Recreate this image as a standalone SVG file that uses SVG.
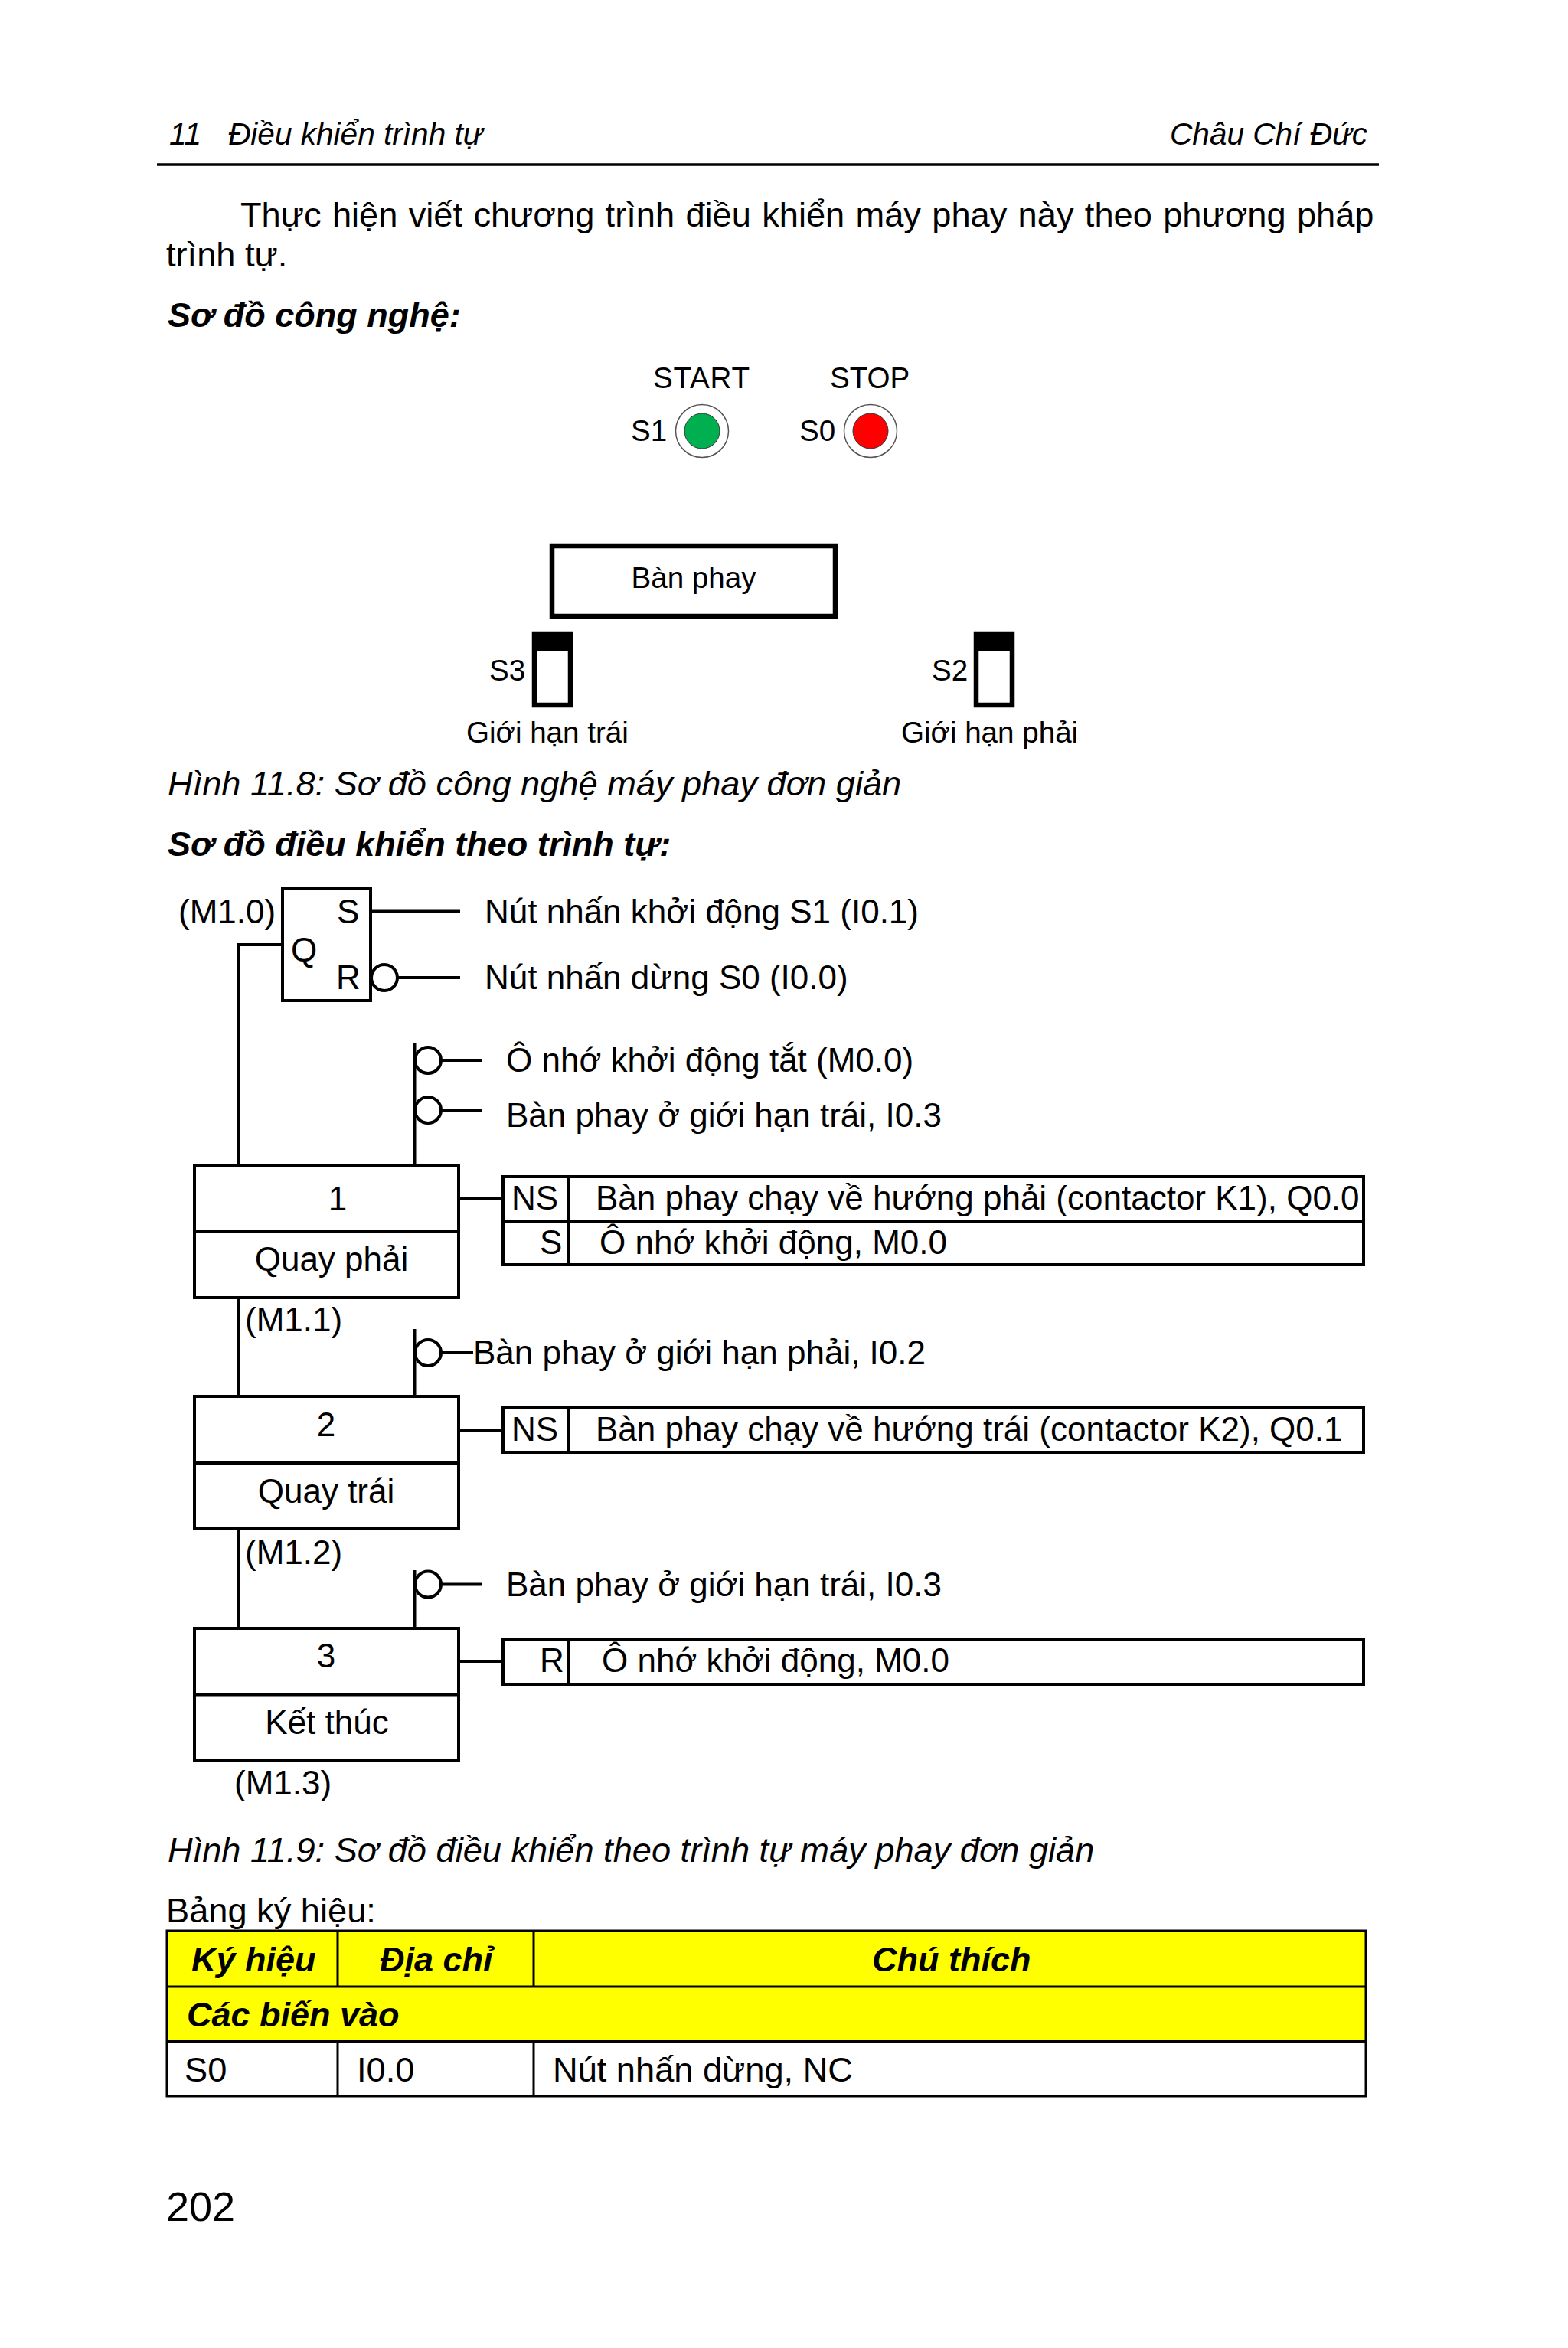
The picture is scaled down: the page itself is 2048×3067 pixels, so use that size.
<svg xmlns="http://www.w3.org/2000/svg" width="2048" height="3067" viewBox="0 0 2048 3067">
<style>
text{font-family:"Liberation Sans",Arial,sans-serif;fill:#000;white-space:pre}
.b{font-size:45.2px}.h{font-size:40.6px;font-style:italic}.bi{font-size:45px;font-style:italic;font-weight:bold}.i{font-size:45.2px;font-style:italic}
.l{font-size:38.6px}.d{font-size:44px}.m{text-anchor:middle}
.ln{fill:none;stroke:#000;stroke-width:4}.box{fill:#fff;stroke:#000;stroke-width:4}
.c{fill:#fff;stroke:#000;stroke-width:4}.t{fill:none;stroke:#000;stroke-width:3}.y{fill:#ff0;stroke:none}
</style>
<rect width="2048" height="3067" fill="#fff"/>
<g id="page-text">
<text class="h" x="221" y="189">11</text>
<text class="h" x="298" y="189">Điều khiển trình tự</text>
<text class="h" x="1528" y="189">Châu Chí Đức</text>
<line x1="205" y1="215" x2="1801" y2="215" stroke="#000" stroke-width="3.5"/>
<text class="b" x="314" y="296" style="word-spacing:1.8px">Thực hiện viết chương trình điều khiển máy phay này theo phương pháp</text>
<text class="b" x="217" y="348">trình tự.</text>
<text class="bi" x="219" y="427">Sơ đồ công nghệ:</text>
<text class="i" x="219" y="1039">Hình 11.8: Sơ đồ công nghệ máy phay đơn giản</text>
<text class="bi" x="219" y="1118">Sơ đồ điều khiển theo trình tự:</text>
<text class="i" x="219" y="2432">Hình 11.9: Sơ đồ điều khiển theo trình tự máy phay đơn giản</text>
<text class="b" x="217" y="2511">Bảng ký hiệu:</text>
<text x="217" y="2901" style="font-size:54px">202</text>
</g>
<g id="btn-start">
<text class="l" x="853" y="507" style="letter-spacing:.8px">START</text><text class="l" x="824" y="576">S1</text>
<circle cx="917" cy="563" r="34.5" fill="#fff" stroke="#555" stroke-width="1.5"/>
<circle cx="917" cy="563" r="23" fill="#00b050" stroke="#333" stroke-width="1"/>
</g>
<g id="btn-stop">
<text class="l" x="1084" y="507">STOP</text><text class="l" x="1044" y="576">S0</text>
<circle cx="1137" cy="563" r="34.5" fill="#fff" stroke="#555" stroke-width="1.5"/>
<circle cx="1137" cy="563" r="23" fill="#f00" stroke="#333" stroke-width="1"/>
</g>
<g id="ban-phay">
<rect x="721" y="713" width="370" height="92" fill="#fff" stroke="#000" stroke-width="6.5"/>
<text class="l" x="906" y="768" text-anchor="middle">Bàn phay</text>
</g>
<g id="s3">
<rect x="698" y="828" width="47" height="93" fill="#fff" stroke="#000" stroke-width="6.5"/>
<rect x="695" y="825" width="53" height="26" fill="#000"/>
<text class="l" x="639" y="889">S3</text><text class="l" x="609" y="970">Giới hạn trái</text>
</g>
<g id="s2">
<rect x="1275" y="828" width="47" height="93" fill="#fff" stroke="#000" stroke-width="6.5"/>
<rect x="1272" y="825" width="53" height="26" fill="#000"/>
<text class="l" x="1217" y="889">S2</text><text class="l" x="1177" y="970">Giới hạn phải</text>
</g>
<g id="connectors">
<path class="ln" d="M369 1234H311V1522M486 1190.5H601M519 1277H601M541.5 1362V1522M576 1385H629M576 1450H629"/>
<path class="ln" d="M311 1695V1824M541.5 1736V1824M576 1767H618M311 1997V2127M541.5 2051V2127M576 2069.5H629"/>
<path class="ln" d="M599 1565H657M599 1868H657M599 2170H657"/>
</g>
<g id="sr">
<rect class="box" x="369" y="1161" width="115" height="146"/>
<text class="d" x="440" y="1206">S</text><text class="d" x="439" y="1292">R</text><text class="d" x="380" y="1256">Q</text>
<text class="d" x="233" y="1206">(M1.0)</text>
<circle class="c" cx="502" cy="1277" r="17"/>
<text class="d" x="633" y="1206">Nút nhấn khởi động S1 (I0.1)</text>
<text class="d" x="633" y="1292">Nút nhấn dừng S0 (I0.0)</text>
</g>
<g id="trans-0">
<circle class="c" cx="559" cy="1385" r="17"/><circle class="c" cx="559" cy="1450" r="17"/>
<text class="d" x="661" y="1400">Ô nhớ khởi động tắt (M0.0)</text>
<text class="d" x="661" y="1472">Bàn phay ở giới hạn trái, I0.3</text>
</g>
<g id="step-1">
<rect class="box" x="254" y="1522" width="345" height="173"/><line class="ln" x1="254" y1="1608" x2="599" y2="1608"/>
<text class="d m" x="441" y="1581">1</text><text class="d m" x="433" y="1660">Quay phải</text>
<text class="d" x="320" y="1739">(M1.1)</text>
</g>
<g id="action-1">
<rect class="box" x="657" y="1537" width="1124" height="115"/>
<path class="ln" d="M657 1595H1781M743 1537V1652"/>
<text class="d" x="668" y="1580">NS</text><text class="d" x="778" y="1580">Bàn phay chạy về hướng phải (contactor K1), Q0.0</text>
<text class="d" x="705" y="1638">S</text><text class="d" x="783" y="1638">Ô nhớ khởi động, M0.0</text>
</g>
<g id="trans-1">
<circle class="c" cx="559" cy="1767" r="17"/>
<text class="d" x="618" y="1782">Bàn phay ở giới hạn phải, I0.2</text>
</g>
<g id="step-2">
<rect class="box" x="254" y="1824" width="345" height="173"/><line class="ln" x1="254" y1="1911" x2="599" y2="1911"/>
<text class="d m" x="426" y="1876">2</text><text class="d m" x="426" y="1963">Quay trái</text>
<text class="d" x="320" y="2043">(M1.2)</text>
</g>
<g id="action-2">
<rect class="box" x="657" y="1839" width="1124" height="58"/><line class="ln" x1="743" y1="1839" x2="743" y2="1897"/>
<text class="d" x="668" y="1882">NS</text><text class="d" x="778" y="1882">Bàn phay chạy về hướng trái (contactor K2), Q0.1</text>
</g>
<g id="trans-2">
<circle class="c" cx="559" cy="2069.5" r="17"/>
<text class="d" x="661" y="2085">Bàn phay ở giới hạn trái, I0.3</text>
</g>
<g id="step-3">
<rect class="box" x="254" y="2127" width="345" height="173"/><line class="ln" x1="254" y1="2213.5" x2="599" y2="2213.5"/>
<text class="d m" x="426" y="2178">3</text><text class="d m" x="427" y="2265">Kết thúc</text>
<text class="d" x="306" y="2344">(M1.3)</text>
</g>
<g id="action-3">
<rect class="box" x="657" y="2141" width="1124" height="59"/><line class="ln" x1="743" y1="2141" x2="743" y2="2200"/>
<text class="d" x="705" y="2184">R</text><text class="d" x="786" y="2184">Ô nhớ khởi động, M0.0</text>
</g>
<g id="table">
<rect class="y" x="218" y="2522" width="1566" height="144"/>
<path class="t" d="M218 2522H1784V2738H218ZM218 2595H1784M218 2666.5H1784M441 2522V2595M697 2522V2595M441 2666V2738M697 2666V2738"/>
<text class="bi" x="250" y="2575">Ký hiệu</text><text class="bi" x="496" y="2575">Địa chỉ</text><text class="bi" x="1139" y="2575">Chú thích</text>
<text class="bi" x="244" y="2647">Các biến vào</text>
<text class="b" x="241" y="2719">S0</text><text class="b" x="466" y="2719">I0.0</text><text class="b" x="722" y="2719">Nút nhấn dừng, NC</text>
</g>
</svg>
